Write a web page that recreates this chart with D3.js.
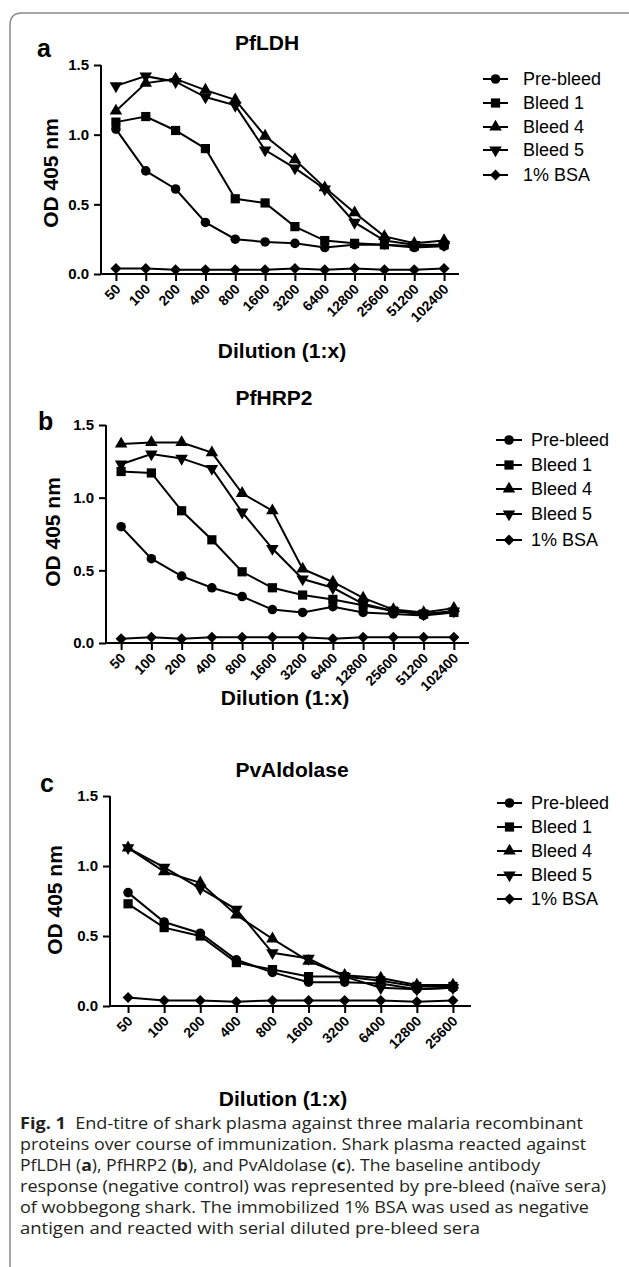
<!DOCTYPE html>
<html>
<head>
<meta charset="utf-8">
<script src="https://cdn.jsdelivr.net/npm/d3@7/dist/d3.min.js"></script>
<style>
  html, body { margin: 0; padding: 0; background: #fff; }
  svg { display: block; }
  .bold { font-family: "Liberation Sans", Arial, sans-serif; font-weight: bold; fill: #000; }
  .reg { font-family: "Liberation Sans", Arial, sans-serif; fill: #000; }
  .cap { font-family: "Open Sans", "Noto Sans", sans-serif; fill: #231f20; }
</style>
</head>
<body>
<svg id="chart" width="629" height="1267"></svg>
<script>
// ---------------- DATA ----------------
const seriesNames = ["Pre-bleed", "Bleed 1", "Bleed 4", "Bleed 5", "1% BSA"];
const yTicks = [0.0, 0.5, 1.0, 1.5];

const dilutionsAB = ["50","100","200","400","800","1600","3200","6400","12800","25600","51200","102400"];
const dilutionsC = ["50","100","200","400","800","1600","3200","6400","12800","25600"];

// Panel a: PfLDH
const pfldhPreBleed = [1.04, 0.74, 0.61, 0.37, 0.25, 0.23, 0.22, 0.19, 0.21, 0.21, 0.19, 0.20];
const pfldhBleed1   = [1.09, 1.13, 1.03, 0.90, 0.54, 0.51, 0.34, 0.24, 0.22, 0.21, 0.20, 0.21];
const pfldhBleed4   = [1.17, 1.37, 1.40, 1.32, 1.25, 0.99, 0.82, 0.62, 0.44, 0.27, 0.22, 0.24];
const pfldhBleed5   = [1.35, 1.42, 1.38, 1.27, 1.21, 0.89, 0.76, 0.61, 0.37, 0.24, 0.21, 0.21];
const pfldhBSA      = [0.04, 0.04, 0.03, 0.03, 0.03, 0.03, 0.04, 0.03, 0.04, 0.03, 0.03, 0.04];

// Panel b: PfHRP2
const pfhrp2PreBleed = [0.80, 0.58, 0.46, 0.38, 0.32, 0.23, 0.21, 0.25, 0.21, 0.20, 0.19, 0.21];
const pfhrp2Bleed1   = [1.18, 1.17, 0.91, 0.71, 0.49, 0.38, 0.33, 0.30, 0.26, 0.22, 0.20, 0.21];
const pfhrp2Bleed4   = [1.37, 1.38, 1.38, 1.31, 1.03, 0.91, 0.51, 0.42, 0.31, 0.23, 0.21, 0.24];
const pfhrp2Bleed5   = [1.23, 1.30, 1.27, 1.20, 0.90, 0.65, 0.44, 0.38, 0.27, 0.22, 0.20, 0.22];
const pfhrp2BSA      = [0.03, 0.04, 0.03, 0.04, 0.04, 0.04, 0.04, 0.03, 0.04, 0.04, 0.04, 0.04];

// Panel c: PvAldolase
const pvaldPreBleed = [0.81, 0.60, 0.52, 0.33, 0.24, 0.17, 0.17, 0.16, 0.12, 0.13];
const pvaldBleed1   = [0.73, 0.56, 0.50, 0.31, 0.26, 0.21, 0.21, 0.18, 0.14, 0.14];
const pvaldBleed4   = [1.13, 0.96, 0.88, 0.65, 0.48, 0.32, 0.22, 0.20, 0.15, 0.15];
const pvaldBleed5   = [1.13, 0.99, 0.84, 0.69, 0.38, 0.34, 0.21, 0.13, 0.12, 0.13];
const pvaldBSA      = [0.06, 0.04, 0.04, 0.03, 0.04, 0.04, 0.04, 0.04, 0.03, 0.04];

const captionLines = [
  [["Fig. 1", true], ["  End-titre of shark plasma against three malaria recombinant", false]],
  [["proteins over course of immunization. Shark plasma reacted against", false]],
  [["PfLDH (", false], ["a", true], ["), PfHRP2 (", false], ["b", true], ["), and PvAldolase (", false], ["c", true], ["). The baseline antibody", false]],
  [["response (negative control) was represented by pre-bleed (naïve sera)", false]],
  [["of wobbegong shark. The immobilized 1% BSA was used as negative", false]],
  [["antigen and reacted with serial diluted pre-bleed sera", false]]
];
const captionWidths = [563, 566, 520, 586, 569, 460];

// ---------------- DRAWING ----------------
const svg = d3.select("#chart");

// frame
svg.append("path")
  .attr("d", "M10,1267 L10,25 Q10,13 22,13 L629,13")
  .attr("fill", "none").attr("stroke", "#8a8a8a").attr("stroke-width", 1.5);

const shapes = {
  circle: d3.symbol().type(d3.symbolCircle).size(72),
  square: d3.symbol().type(d3.symbolSquare).size(85),
  tri: d3.symbol().type(d3.symbolTriangle).size(68)
};
function markerPath(kind) {
  if (kind === "diamond") return "M-5.5,0 L0,-5.5 L5.5,0 L0,5.5 Z";
  if (kind === "circle") return shapes.circle();
  if (kind === "square") return shapes.square();
  return shapes.tri();
}
const kinds = ["circle", "square", "tri", "tridown", "diamond"];

function drawMarker(g, kind, x, y) {
  const p = g.append("path")
    .attr("d", markerPath(kind === "tridown" ? "tri" : kind))
    .attr("fill", "#000");
  let t = `translate(${x},${y})`;
  if (kind === "tridown") t += " rotate(180)";
  p.attr("transform", t);
}

function drawPanel(cfg) {
  const g = svg.append("g");
  const x = d3.scalePoint().domain(cfg.cats).range(cfg.xRange).padding(0.5);
  const y = d3.scaleLinear().domain([0, 1.5]).range(cfg.yRange);
  const axisY = cfg.yRange[0];
  const axisX = cfg.xRange[0];

  // series lines & markers
  cfg.series.forEach((vals) => {
    const line = d3.line().x((d, i) => x(cfg.cats[i])).y(d => y(d));
    g.append("path").attr("d", line(vals))
      .attr("fill", "none").attr("stroke", "#000").attr("stroke-width", 2);
  });
  cfg.series.forEach((vals, si) => {
    vals.forEach((v, i) => drawMarker(g, kinds[si], x(cfg.cats[i]), y(v)));
  });

  // y axis
  const ya = g.append("g").attr("transform", `translate(${axisX},0)`)
    .call(d3.axisLeft(y).tickValues(yTicks).tickFormat(d3.format(".1f")).tickSize(7).tickPadding(5));
  ya.select(".domain").attr("stroke", "#000").attr("stroke-width", 2).attr("d", `M0,${cfg.yRange[1]}V${axisY}`);
  ya.selectAll(".tick line").attr("stroke", "#000").attr("stroke-width", 2);
  ya.selectAll(".tick text").attr("class", "bold").attr("font-size", 15).attr("fill", "#000");
  ya.attr("font-family", null).attr("font-size", null);

  // x axis
  const xa = g.append("g").attr("transform", `translate(0,${axisY})`)
    .call(d3.axisBottom(x).tickSize(7).tickSizeOuter(0));
  xa.select(".domain").attr("stroke", "#000").attr("stroke-width", 2)
    .attr("d", `M${cfg.xRange[0] - 1},0H${cfg.xRange[1]}`);
  xa.selectAll(".tick line").attr("stroke", "#000").attr("stroke-width", 2);
  xa.selectAll(".tick text").attr("class", "bold").attr("font-size", 14).attr("fill", "#000")
    .attr("text-anchor", "end").attr("dy", null).attr("y", null)
    .attr("transform", "translate(5,16) rotate(-45)");
  xa.attr("font-family", null).attr("font-size", null);

  // titles
  g.append("text").attr("class", "bold").attr("font-size", 21).attr("text-anchor", "middle")
    .attr("x", cfg.titleX).attr("y", cfg.titleY).text(cfg.title);
  g.append("text").attr("class", "bold").attr("font-size", 25)
    .attr("x", cfg.letterX).attr("y", cfg.letterY).text(cfg.letter);
  g.append("text").attr("class", "bold").attr("font-size", 21).attr("text-anchor", "middle")
    .attr("transform", `translate(${cfg.ylabX},${cfg.ylabY}) rotate(-90)`).text("OD 405 nm");
  g.append("text").attr("class", "bold").attr("font-size", 21).attr("text-anchor", "middle")
    .attr("x", cfg.xlabX).attr("y", cfg.xlabY).text("Dilution (1:x)");

  // legend
  seriesNames.forEach((name, i) => {
    const ly = cfg.legRows[i];
    g.append("line").attr("x1", cfg.legLine[0]).attr("x2", cfg.legLine[1])
      .attr("y1", ly).attr("y2", ly).attr("stroke", "#000").attr("stroke-width", 2);
    drawMarker(g, kinds[i], (cfg.legLine[0] + cfg.legLine[1]) / 2, ly);
    g.append("text").attr("class", "reg").attr("font-size", 18)
      .attr("x", cfg.legText).attr("y", ly).attr("dy", "0.35em").text(name);
  });
}

drawPanel({
  cats: dilutionsAB, xRange: [101, 459], yRange: [274, 65],
  series: [pfldhPreBleed, pfldhBleed1, pfldhBleed4, pfldhBleed5, pfldhBSA],
  title: "PfLDH", titleX: 267, titleY: 50, letter: "a", letterX: 37, letterY: 57,
  ylabX: 58, ylabY: 173, xlabX: 282, xlabY: 358,
  legLine: [483, 508], legText: 523, legRows: [79, 103, 127, 150, 175]
});
drawPanel({
  cats: dilutionsAB, xRange: [106, 469], yRange: [643, 425],
  series: [pfhrp2PreBleed, pfhrp2Bleed1, pfhrp2Bleed4, pfhrp2Bleed5, pfhrp2BSA],
  title: "PfHRP2", titleX: 274, titleY: 405, letter: "b", letterX: 38, letterY: 430,
  ylabX: 60, ylabY: 532, xlabX: 285, xlabY: 705,
  legLine: [496, 522], legText: 531, legRows: [440, 465, 489, 514, 540]
});
drawPanel({
  cats: dilutionsC, xRange: [110, 471], yRange: [1006, 796],
  series: [pvaldPreBleed, pvaldBleed1, pvaldBleed4, pvaldBleed5, pvaldBSA],
  title: "PvAldolase", titleX: 292, titleY: 777, letter: "c", letterX: 40, letterY: 792,
  ylabX: 62, ylabY: 900, xlabX: 283, xlabY: 1106,
  legLine: [497, 522], legText: 531, legRows: [803, 827, 851, 875, 899]
});

// caption
const capTop = 1129, capStep = 21;
captionLines.forEach((parts, li) => {
  const t = svg.append("text").attr("class", "cap").attr("font-size", 16)
    .attr("x", 20).attr("y", capTop + li * capStep).attr("xml:space", "preserve");
  parts.forEach(([s, b]) => {
    t.append("tspan").attr("font-weight", b ? "bold" : "normal").text(s);
  });
  t.attr("textLength", captionWidths[li]).attr("lengthAdjust", "spacingAndGlyphs");
});
</script>
</body>
</html>
